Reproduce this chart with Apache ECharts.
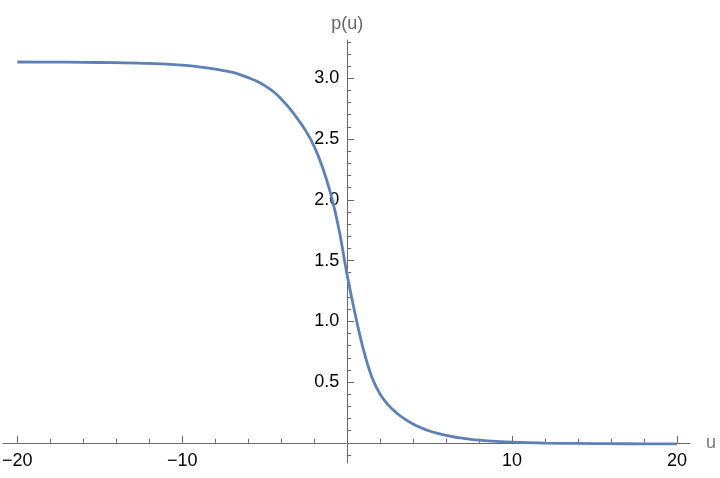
<!DOCTYPE html>
<html>
<head>
<meta charset="utf-8">
<script src="https://cdn.jsdelivr.net/npm/echarts@6/dist/echarts.min.js"></script>
<style>
  html, body { margin: 0; padding: 0; background: #fff; }
  #chart { width: 720px; height: 478px; }
</style>
</head>
<body>
<div id="chart"></div>
<script>
// values
var uValues = [-20, -18, -16, -14, -12, -10, -9, -8, -7.5, -7, -6.5, -6, -5.5, -5, -4.5, -4, -3.5, -3,
  -2.5, -2, -1.5, -1, -0.5, 0, 0.5, 1, 1.5, 2, 2.5, 3, 3.5, 4, 4.5, 5, 5.5, 6, 6.5, 7, 7.5, 8,
  9, 10, 12, 14, 16, 18, 20];
var pValues = [3.134, 3.133, 3.131, 3.128, 3.122, 3.108, 3.094, 3.076, 3.064, 3.05, 3.03, 3.005, 2.977,
  2.94, 2.893, 2.83, 2.755, 2.665, 2.565, 2.44, 2.27, 2.05, 1.76, 1.38, 1.05, 0.76, 0.54, 0.40, 0.31,
  0.245, 0.195, 0.155, 0.123, 0.097, 0.077, 0.061, 0.048, 0.038, 0.029, 0.022, 0.012, 0.005,
  -0.002, -0.005, -0.007, -0.008, -0.008];

// ticks
var xMajorTicks = [-20, -10, 10, 20];
var xMinorTicks = [-18, -16, -14, -12, -8, -6, -4, -2, 2, 4, 6, 8, 12, 14, 16, 18];
var yMajorTicks = [0.5, 1, 1.5, 2, 2.5, 3];
var yMinorTicks = [-0.1, 0.1, 0.2, 0.3, 0.4, 0.6, 0.7, 0.8, 0.9, 1.1, 1.2, 1.3, 1.4, 1.6, 1.7, 1.8, 1.9,
  2.1, 2.2, 2.3, 2.4, 2.6, 2.7, 2.8, 2.9, 3.1, 3.2, 3.3];

var font = 'Liberation Sans, Arial, Helvetica, sans-serif';
var axisColor = '#6a6a6a';

var W = 720, H = 478;
var grid = { left: 3, right: 30, top: 40, bottom: 15 };
var xMin = -20.87, xMax = 20.79;
var yMin = -0.166, yMax = 3.315;

// axes cross at the origin: shift them in from the grid edges
var gw = W - grid.left - grid.right, gh = H - grid.top - grid.bottom;
var yAxisOffset = -(0 - xMin) / (xMax - xMin) * gw;
var xAxisOffset = -(0 - yMin) / (yMax - yMin) * gh;

var data = [];
for (var i = 0; i < uValues.length; i++) {
  data.push([uValues[i], pValues[i]]);
}

function minus(v) {
  return String(v).replace('-', '\u2212');
}

var chart = echarts.init(document.getElementById('chart'));
var option = {
  animation: false,
  backgroundColor: '#fff',
  grid: { left: grid.left, right: grid.right, top: grid.top, bottom: grid.bottom, containLabel: false, outerBoundsMode: 'none' },
  xAxis: [
    {
      type: 'value', min: xMin, max: xMax, position: 'bottom', offset: xAxisOffset,
      axisLine: { onZero: false, lineStyle: { color: axisColor, width: 1 } },
      axisTick: { inside: true, length: 7, customValues: xMajorTicks, lineStyle: { color: axisColor } },
      axisLabel: {
        customValues: xMajorTicks, margin: 9, color: '#000', fontSize: 18, fontFamily: font,
        formatter: function (v) { return minus(v); }
      },
      splitLine: { show: false },
      name: 'u', nameLocation: 'end', nameGap: 16,
      nameTextStyle: { color: '#777', fontSize: 18, fontFamily: font }
    },
    {
      type: 'value', min: xMin, max: xMax, position: 'bottom', offset: xAxisOffset,
      axisLine: { show: false, onZero: false },
      axisTick: { inside: true, length: 4, customValues: xMinorTicks, lineStyle: { color: axisColor } },
      axisLabel: { show: false },
      splitLine: { show: false }
    }
  ],
  yAxis: [
    {
      type: 'value', min: yMin, max: yMax, position: 'left', offset: yAxisOffset,
      axisLine: { show: true, onZero: false, lineStyle: { color: axisColor, width: 1 } },
      axisTick: { show: true, inside: true, length: 7, customValues: yMajorTicks, lineStyle: { color: axisColor } },
      axisLabel: {
        customValues: yMajorTicks, margin: 8, color: '#000', fontSize: 18, fontFamily: font,
        formatter: function (v) { return v.toFixed(1); }
      },
      splitLine: { show: false },
      name: 'p(u)', nameLocation: 'end', nameGap: 7,
      nameTextStyle: { color: '#666', fontSize: 18, fontFamily: font, align: 'center' }
    },
    {
      type: 'value', min: yMin, max: yMax, position: 'left', offset: yAxisOffset,
      axisLine: { show: false, onZero: false },
      axisTick: { show: true, inside: true, length: 4, customValues: yMinorTicks, lineStyle: { color: axisColor } },
      axisLabel: { show: false },
      splitLine: { show: false }
    }
  ],
  series: [
    {
      type: 'line',
      xAxisIndex: 0,
      yAxisIndex: 0,
      data: data,
      smooth: 0.4,
      showSymbol: false,
      lineStyle: { color: '#5E81B5', width: 2.8 }
    }
  ]
};
chart.setOption(option);
</script>
</body>
</html>
